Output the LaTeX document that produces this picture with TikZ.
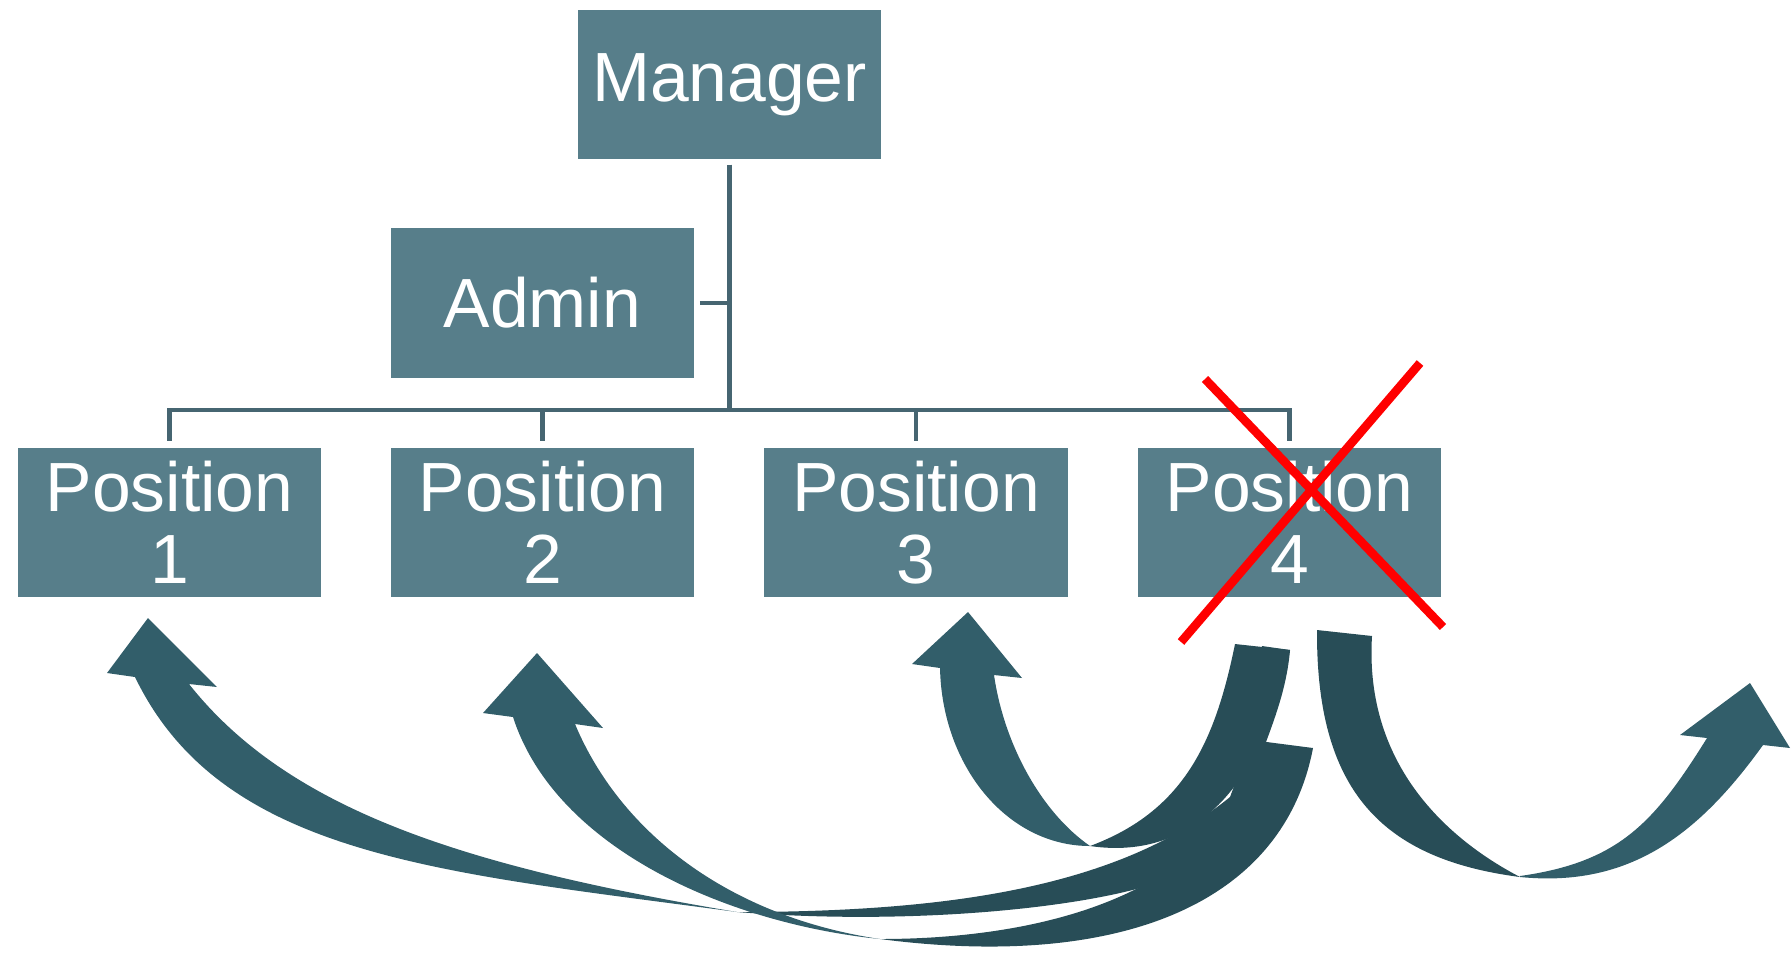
\documentclass[tikz,border=0pt]{standalone}
\usepackage{fontspec}
\setmainfont{Liberation Sans}

\definecolor{boxfill}{RGB}{87,126,138}
\definecolor{linecol}{RGB}{70,101,113}
\definecolor{arrowfront}{RGB}{50,94,106}
\definecolor{arrowback}{RGB}{40,77,87}

\tikzset{
  orgbox/.style={fill=boxfill, text=white, minimum width=3.03cm, minimum height=1.49cm,
    inner sep=0pt, align=center, font=\fontsize{19.8}{20.6}\selectfont},
  orgline/.style={draw=linecol, line width=1.3pt},
  crossline/.style={draw=red, line width=2.45pt},
  headpart/.style={fill=arrowfront},
  tailpart/.style={fill=arrowback}
}

\begin{document}
\begin{tikzpicture}[x=0.01cm, y=-0.01cm]
\useasboundingbox (0,0) rectangle (1792,954);

% chart boxes
\node[orgbox] (manager) at (729.5,84.5) {Manager};
\node[orgbox] (admin) at (542.5,303) {Admin};
\node[orgbox] (pos1) at (169.5,522.5) {Position\\1};
\node[orgbox] (pos2) at (542.5,522.5) {Position\\2};
\node[orgbox] (pos3) at (916,522.5) {Position\\3};
\node[orgbox] (pos4) at (1289.5,522.5) {Position\\4};

% connectors
\coordinate (bus) at (729.5,410);
\foreach \p in {pos1,pos2,pos3,pos4}
  \draw[orgline] ([yshift=-0.5mm]manager.south) -- (bus) -| ([yshift=0.6mm]\p.north);
\draw[orgline] ([xshift=0.5mm]admin.east) -- (admin.east -| manager.south);

% arrow back to position 1
\fill[tailpart] (737,912) .. controls (950,912) and (1120,887) .. (1230,797) -- (1255,730) -- (1262,646)
  -- (1290,650) .. controls (1287,685) and (1276,715) .. (1266,742)
  .. controls (1262,810) and (1230,855) .. (1140,888) .. controls (1060,910) and (900,925) .. (737,912) -- cycle;
\fill[headpart] (135,677) .. controls (222,857) and (440,872) .. (737,912)
  .. controls (461,866) and (288,809) .. (189,684) -- (217,687) -- (148,618) -- (107,673) -- cycle;

% arrow back to position 3
\fill[tailpart] (1090,846) .. controls (1184,811) and (1215,742) .. (1235,644)
  -- (1290,650) .. controls (1265,777) and (1199,862) .. (1090,846) -- cycle;
\fill[headpart] (940,668) .. controls (942,766) and (1007,846) .. (1090,846)
  .. controls (1041,812) and (1004,744) .. (994,675) -- (1022,678) -- (968,612) -- (912,664) -- cycle;

% arrow back to position 2
\fill[tailpart] (880,939) .. controls (1040,939) and (1224,896) .. (1259,741)
  -- (1313,748) .. controls (1283,905) and (1118,970) .. (880,939) -- cycle;
\fill[headpart] (513,717) .. controls (556,850) and (731,924) .. (880,939)
  .. controls (731,917) and (621,834) .. (575,724) -- (603,728) -- (537,653) -- (483,713) -- cycle;

% arrow out to the right
\fill[tailpart] (1317,630) .. controls (1316,790) and (1381,859) .. (1520,877)
  .. controls (1449,840) and (1364,766) .. (1372,636) -- cycle;
\fill[headpart] (1520,877) .. controls (1630,888) and (1699,834) .. (1763,745)
  -- (1790,748) -- (1750,683) -- (1680,735) -- (1707,738)
  .. controls (1654,823) and (1619,862) .. (1520,876) -- cycle;

% crossed out
\draw[crossline] (1205,379) -- (1443,627);
\draw[crossline] (1420,363) -- (1181,642);

\end{tikzpicture}
\end{document}
